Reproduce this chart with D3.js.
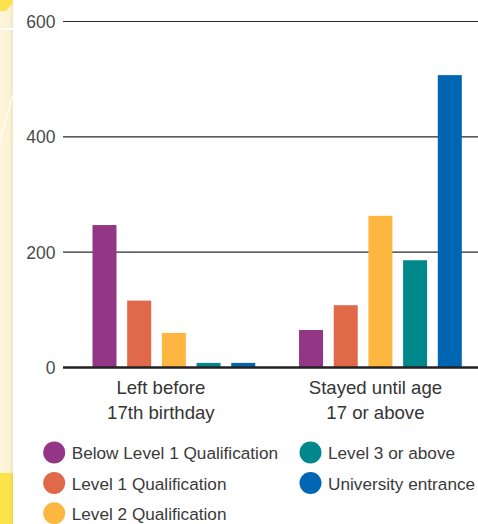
<!DOCTYPE html>
<html>
<head>
<meta charset="utf-8">
<script src="https://cdn.jsdelivr.net/npm/d3@7"></script>
<style>
  html, body { margin: 0; padding: 0; background: #fff; }
  svg { display: block; }
</style>
</head>
<body>
<svg id="chart" width="478" height="524"></svg>
<script>
// ---- data ----
const groups = ["Left before\n17th birthday", "Stayed until age\n17 or above"];
const series = ["Below Level 1 Qualification", "Level 1 Qualification", "Level 2 Qualification", "Level 3 or above", "University entrance"];
const leftBefore17 = [247, 116, 60, 8, 8];
const stayedUntil17 = [65, 108, 263, 186, 507];
const yTicks = [0, 200, 400, 600];
const colors = ["#933686", "#E0694A", "#FDB740", "#00878C", "#0065B2"];

const values = [leftBefore17, stayedUntil17];

const svg = d3.select("#chart");
const W = 478, H = 524;
const font = "'Liberation Sans', Arial, sans-serif";

// ---- decorative left strip ----
const defs = svg.append("defs");
const g1 = defs.append("linearGradient").attr("id", "stripGrad").attr("x1", 0).attr("x2", 1);
g1.append("stop").attr("offset", "0%").attr("stop-color", "#FDF6DD");
g1.append("stop").attr("offset", "75%").attr("stop-color", "#FBF2D4");
g1.append("stop").attr("offset", "100%").attr("stop-color", "#ECE4C6");
const g2 = defs.append("linearGradient").attr("id", "stripGrad2").attr("x1", 0).attr("x2", 1);
g2.append("stop").attr("offset", "0%").attr("stop-color", "#FEE54C");
g2.append("stop").attr("offset", "75%").attr("stop-color", "#FDE34A");
g2.append("stop").attr("offset", "100%").attr("stop-color", "#EDD64C");

svg.append("rect").attr("x", 0).attr("y", 0).attr("width", 13).attr("height", H).attr("fill", "url(#stripGrad)");
svg.append("path").attr("d", "M0,0 L13,0 L13,3 L6,11 L0,11 Z").attr("fill", "#FDE24E");
svg.append("rect").attr("x", 0).attr("y", 28).attr("width", 13).attr("height", 2).attr("fill", "#FFFDF4");
svg.append("path").attr("d", "M0,140 L13,95").attr("stroke", "#FFFDF2").attr("stroke-width", 1.2).attr("fill", "none");
svg.append("rect").attr("x", 0).attr("y", 473).attr("width", 13).attr("height", H - 473).attr("fill", "url(#stripGrad2)");

// ---- scales ----
const y = d3.scaleLinear().domain([0, 600]).range([367.5, 21.5]);
const x0 = d3.scaleBand().domain(groups).range([92.5, 461.8]).paddingInner(0.212);
const x1 = d3.scaleBand().domain(series).range([0, x0.bandwidth()]).paddingInner(0.308);

// ---- grid + y labels ----
const axis = svg.append("g");
yTicks.forEach(t => {
  if (t !== 0) {
    axis.append("line")
      .attr("x1", 63).attr("x2", W)
      .attr("y1", y(t)).attr("y2", y(t))
      .attr("stroke", "#2a2a2a").attr("stroke-width", 1.2);
  }
  axis.append("text")
    .attr("x", 55.5).attr("y", y(t) + 6.5)
    .attr("text-anchor", "end")
    .attr("font-family", font).attr("font-size", 17.5)
    .attr("fill", "#4a4a4a")
    .text(d3.format("d")(t));
});

// ---- bars ----
groups.forEach((grp, gi) => {
  const gg = svg.append("g").attr("transform", `translate(${x0(grp)},0)`);
  gg.selectAll("rect").data(values[gi]).join("rect")
    .attr("x", (d, i) => x1(series[i]))
    .attr("width", x1.bandwidth())
    .attr("y", d => y(d))
    .attr("height", d => y(0) - y(d))
    .attr("fill", (d, i) => colors[i]);
});

// baseline
svg.append("line")
  .attr("x1", 63).attr("x2", W)
  .attr("y1", y(0)).attr("y2", y(0))
  .attr("stroke", "#222").attr("stroke-width", 2.6);

// ---- category labels ----
const labelShift = [-13, -5];
groups.forEach((grp, gi) => {
  const lines = grp.split("\n");
  const t = svg.append("text")
    .attr("text-anchor", "middle")
    .attr("font-family", font).attr("font-size", 18.6)
    .attr("fill", "#353535");
  lines.forEach((ln, li) => {
    t.append("tspan")
      .attr("x", x0(grp) + x0.bandwidth() / 2 + labelShift[gi])
      .attr("y", 393.5 + li * 25.5)
      .text(ln);
  });
});

// ---- legend ----
const legendPos = [[54.2, 452.5], [54.2, 483], [54.2, 513.3], [310.5, 452.5], [310.5, 483]];
const leg = svg.append("g");
series.forEach((s, i) => {
  const [cx, cy] = legendPos[i];
  leg.append("circle").attr("cx", cx).attr("cy", cy).attr("r", 11).attr("fill", colors[i]);
  leg.append("text")
    .attr("x", cx + 17.5).attr("y", cy + 6.5)
    .attr("font-family", font).attr("font-size", 17.2)
    .attr("fill", "#3a3a3a")
    .text(s);
});
</script>
</body>
</html>
